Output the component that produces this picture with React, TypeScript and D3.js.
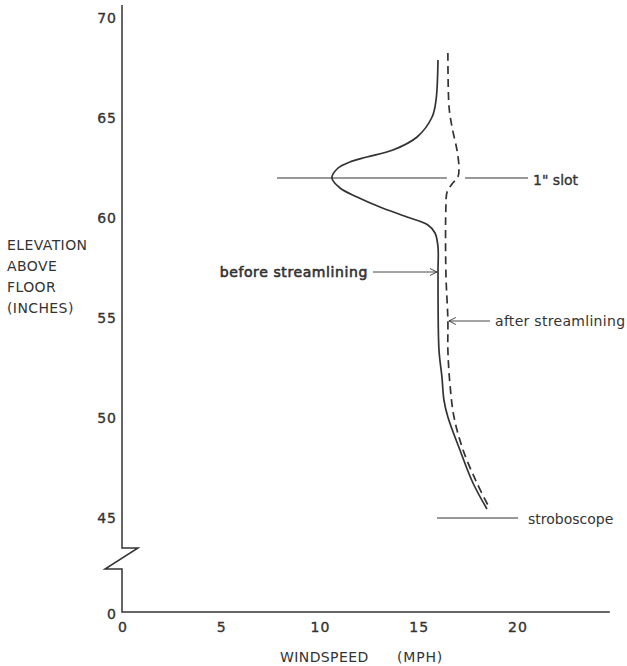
import React from "react";
import * as d3 from "d3";

// tick labels
const speedTicks = [0, 5, 10, 15, 20];
const elevTicks = [45, 50, 55, 60, 65, 70];

// before streamlining (solid)
const beforeElev = [67.9, 65.9, 65.05, 64.05, 63.4, 63.05, 62.8, 62.5, 62.0, 61.5, 61.05, 60.55, 60.05, 59.65, 59.25, 58.55, 57.25, 53.4, 52.05, 50.9, 50.05, 48.4, 46.75, 45.45];
const beforeSpeed = [16.0, 15.9, 15.7, 14.94, 13.72, 12.4, 11.54, 10.94, 10.63, 11.04, 11.9, 13.06, 14.43, 15.49, 15.85, 16.0, 16.0, 16.05, 16.2, 16.3, 16.5, 17.11, 17.77, 18.48];

// after streamlining (dashed)
const afterElev = [68.25, 65.55, 64.55, 63.4, 62.55, 62.05, 61.7, 61.3, 60.55, 57.25, 54.9, 53.4, 51.75, 50.05, 48.4, 46.75, 45.45];
const afterSpeed = [16.5, 16.56, 16.71, 16.96, 17.06, 17.01, 16.71, 16.46, 16.4, 16.4, 16.5, 16.5, 16.6, 16.81, 17.27, 17.97, 18.63];

// reference lines
const slotElev = 62;
const strobeElev = 45;

const ink = "#333";
const font = "DejaVu Sans, sans-serif";

export default function App() {
  const x = d3.scaleLinear().domain([0, 20]).range([122, 517]);
  const y = d3.scaleLinear().domain([45, 70]).range([518, 18]);
  const baseY = 612; // the "0" below the axis break
  const axisX = x(0);

  const line = d3
    .line<[number, number]>()
    .x((d) => x(d[0]))
    .y((d) => y(d[1]))
    .curve(d3.curveCatmullRom.alpha(0.5));

  const before = beforeSpeed.map((s, i) => [s, beforeElev[i]] as [number, number]);
  const after = afterSpeed.map((s, i) => [s, afterElev[i]] as [number, number]);

  // y axis with a zigzag break
  const breakTop = 548;
  const breakBot = 569;
  const yAxisPath = `M${axisX},${y(70.65)}V${breakTop}H${axisX + 16}L${axisX - 17},${breakBot}H${axisX}V${baseY}H${x(24.7)}`;

  const arrowHead = (tx: number, ty: number, dir: number) =>
    `M${tx - dir * 7},${ty - 3.5}L${tx},${ty}L${tx - dir * 7},${ty + 3.5}`;

  const beforeArrowY = y(57.3);
  const afterArrowY = y(54.85);

  // slightly heavier lettering, like the hand-inked original
  const heavy = { stroke: ink, strokeWidth: 0.35 };

  return (
    <svg
      width={627}
      height={666}
      style={{ position: "absolute", left: 0, top: 0, background: "#fff" }}
      fontFamily={font}
      fill={ink}
    >
      <path d={yAxisPath} fill="none" stroke={ink} strokeWidth={1.5} />

      {/* y tick labels */}
      {elevTicks.map((t) => (
        <text key={t} x={117} y={y(t)} dy="0.36em" textAnchor="end" fontSize={14} letterSpacing={1} {...heavy}>
          {t}
        </text>
      ))}
      <text x={116} y={baseY + 2} dy="0.36em" textAnchor="end" fontSize={14} {...heavy}>
        0
      </text>

      {/* x tick labels */}
      {speedTicks.map((t) => (
        <text key={t} x={x(t) + 1} y={627} dy="0.36em" textAnchor="middle" fontSize={14} letterSpacing={1} {...heavy}>
          {t}
        </text>
      ))}

      {/* axis titles */}
      <text x={280} y={657} dy="0.36em" fontSize={14} letterSpacing={0.4}>
        WINDSPEED
      </text>
      <text x={397} y={657} dy="0.36em" fontSize={14} letterSpacing={0.8}>
        (MPH)
      </text>
      {["ELEVATION", "ABOVE", "FLOOR", "(INCHES)"].map((s, i) => (
        <text key={s} x={7} y={245 + i * 21} dy="0.36em" fontSize={14} letterSpacing={0.4}>
          {s}
        </text>
      ))}

      {/* 1" slot line */}
      <line x1={x(7.85)} x2={x(16.45)} y1={y(slotElev)} y2={y(slotElev)} stroke={ink} strokeWidth={1.2} />
      <line x1={x(17.37)} x2={x(20.56)} y1={y(slotElev)} y2={y(slotElev)} stroke={ink} strokeWidth={1.2} />
      <text x={x(20.56) + 5} y={y(slotElev) + 2} dy="0.36em" fontSize={14} {...heavy}>
        1" slot
      </text>

      {/* stroboscope line */}
      <line x1={x(15.95)} x2={x(20.05)} y1={y(strobeElev)} y2={y(strobeElev)} stroke={ink} strokeWidth={1.2} />
      <text x={x(20.05) + 10} y={y(strobeElev) + 1} dy="0.36em" fontSize={14}>
        stroboscope
      </text>

      {/* profiles */}
      <path d={line(before) || ""} fill="none" stroke={ink} strokeWidth={1.7} />
      <path d={line(after) || ""} fill="none" stroke={ink} strokeWidth={1.7} strokeDasharray="8,5" />

      {/* before streamlining label + arrow */}
      <text x={368} y={beforeArrowY} dy="0.36em" textAnchor="end" fontSize={14} letterSpacing={0.6} stroke={ink} strokeWidth={0.6}>
        before streamlining
      </text>
      <line x1={373} x2={x(16.0) - 1} y1={beforeArrowY} y2={beforeArrowY} stroke={ink} strokeWidth={0.9} />
      <path d={arrowHead(x(16.0) - 1, beforeArrowY, 1)} fill="none" stroke={ink} strokeWidth={0.9} />

      {/* after streamlining label + arrow */}
      <line x1={x(16.5) + 1} x2={490} y1={afterArrowY} y2={afterArrowY} stroke={ink} strokeWidth={0.9} />
      <path d={arrowHead(x(16.5) + 1, afterArrowY, -1)} fill="none" stroke={ink} strokeWidth={0.9} />
      <text x={495} y={afterArrowY} dy="0.36em" fontSize={14} letterSpacing={0.3}>
        after streamlining
      </text>
    </svg>
  );
}
